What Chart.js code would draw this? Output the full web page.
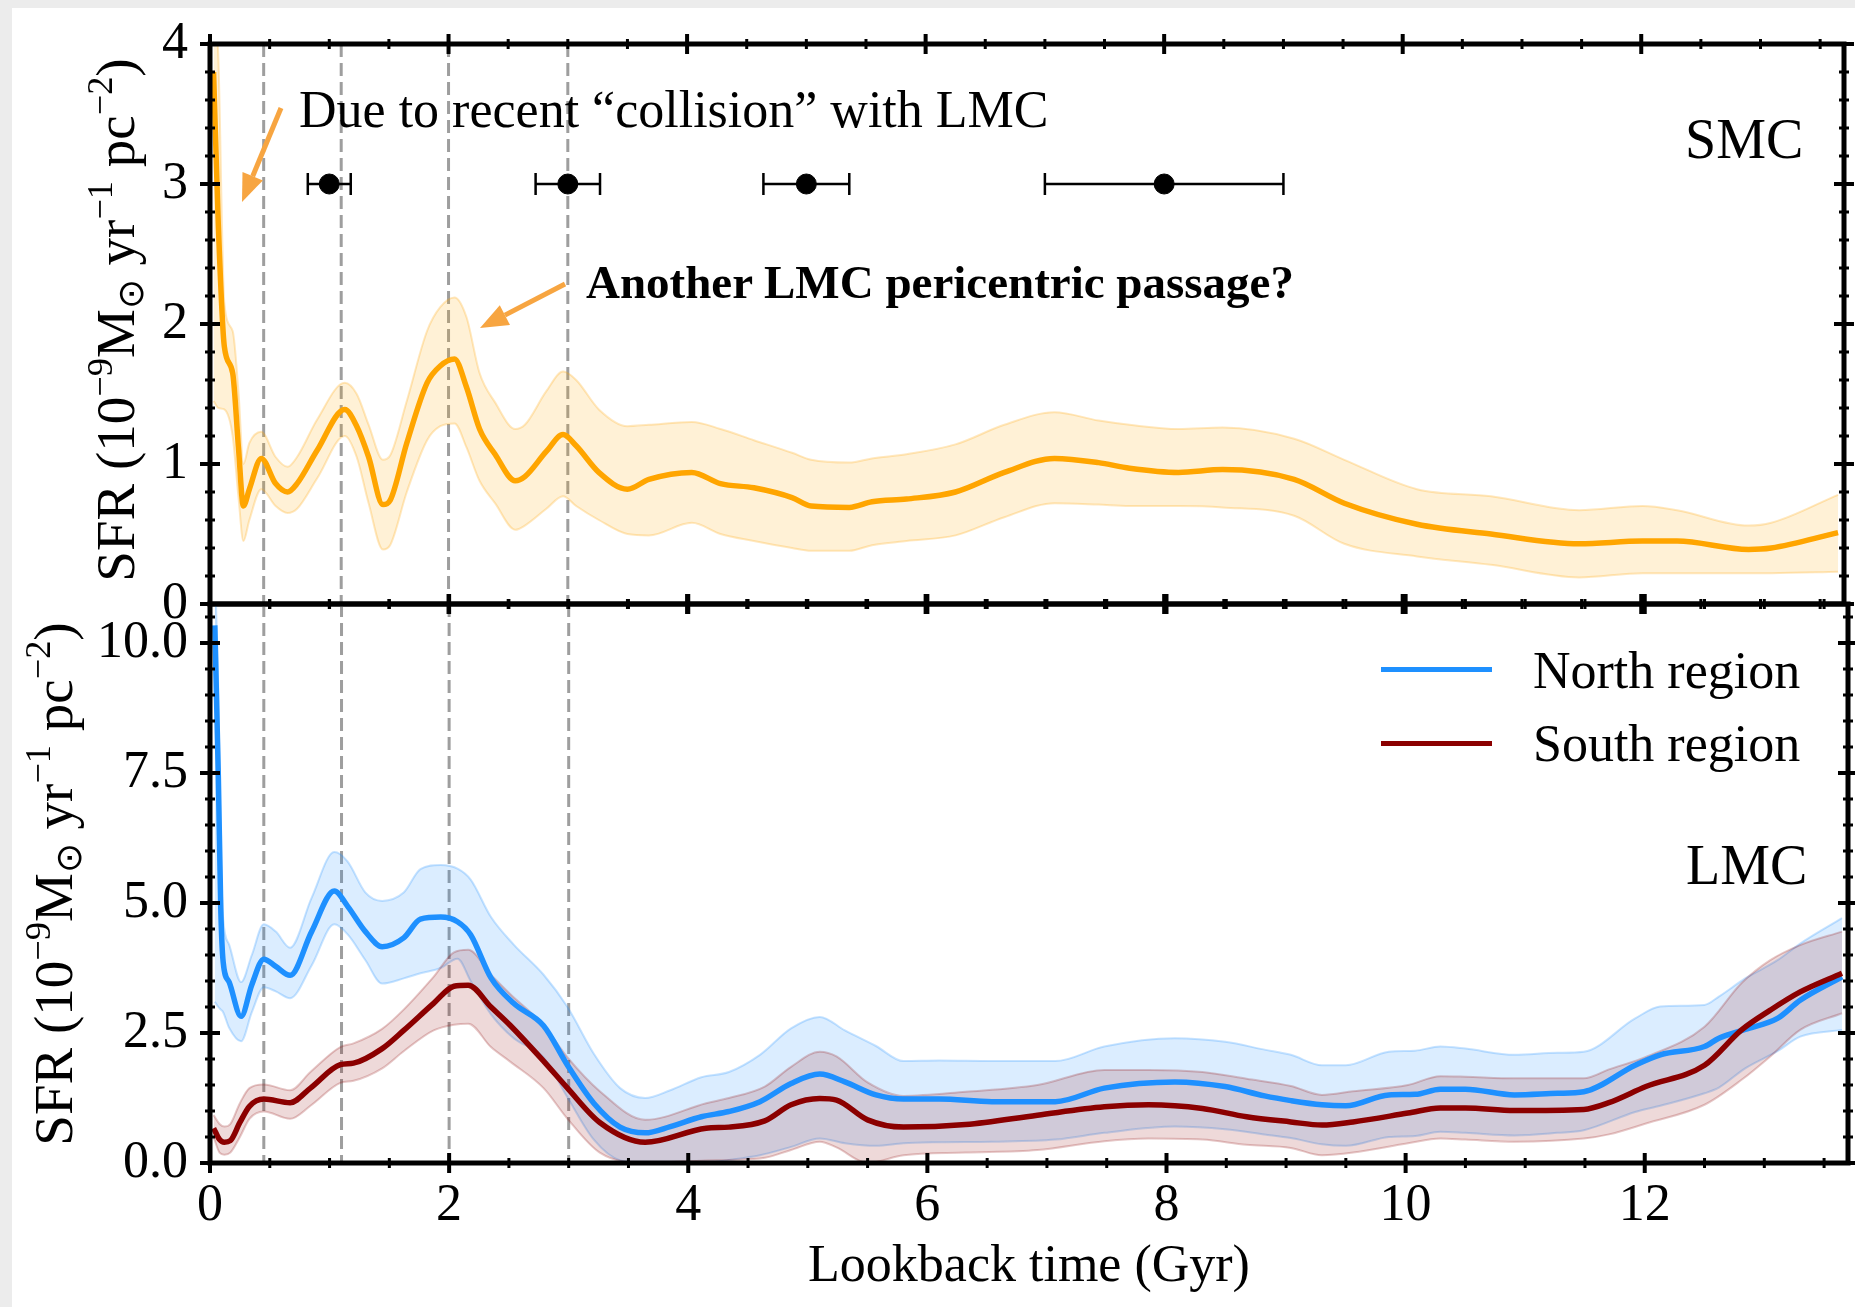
<!DOCTYPE html>
<html>
<head>
<meta charset="utf-8">
<script src="https://cdn.jsdelivr.net/npm/chart.js@4.4.1/dist/chart.umd.min.js"></script>
<style>
  html, body { margin: 0; padding: 0; background: #ececec; }
  #page { position: relative; width: 1855px; height: 1307px; overflow: hidden; }
  #card { position: absolute; left: 12px; top: 8px; right: 0; bottom: 0; background: #fff; }
  canvas { position: absolute; left: 0; top: 0; }
  .txt { position: absolute; font-family: "Liberation Serif", serif; color: #000; white-space: nowrap; line-height: 1; }
  .ytitle { position: absolute; font-family: "Liberation Serif", serif; font-size: 55px; line-height: 1;
            white-space: nowrap; transform: translate(-50%, -50%) rotate(-90deg); }
  .sup { font-size: 0.66em; position: relative; top: -0.6em; }
  .sub { font-size: 0.66em; position: relative; top: 0.25em; }
  .legline { position: absolute; height: 5px; }
  svg { position: absolute; left: 0; top: 0; }
</style>
</head>
<body>
<div id="page">
  <div id="card"></div>
  <canvas id="smcChart" width="1855" height="1307"></canvas>
  <canvas id="lmcChart" width="1855" height="1307"></canvas>

  <svg width="1855" height="1307">
    <line x1="281" y1="108" x2="252.7" y2="176.2" stroke="#f7a541" stroke-width="5"/>
    <polygon points="242,202 262.9,180.4 242.5,172" fill="#f7a541"/>
    <line x1="565" y1="284" x2="504.9" y2="315.1" stroke="#f7a541" stroke-width="5"/>
    <polygon points="480,328 510,324.9 499.8,305.3" fill="#f7a541"/>
  </svg>

  <div class="txt" style="left:299px; top:84px; font-size:52px;">Due to recent “collision” with LMC</div>
  <div class="txt" style="left:586px; top:259px; font-size:47px; font-weight:bold;">Another LMC pericentric passage?</div>
  <div class="txt" style="left:1685px; top:111px; font-size:56px;">SMC</div>
  <div class="txt" style="left:1686px; top:837px; font-size:56px;">LMC</div>

  <div class="legline" style="left:1381px; top:667px; width:111px; background:#1e90ff;"></div>
  <div class="legline" style="left:1381px; top:741px; width:111px; background:#8b0000;"></div>
  <div class="txt" style="left:1533px; top:645px; font-size:52px;">North region</div>
  <div class="txt" style="left:1533px; top:718px; font-size:52px;">South region</div>

  <div class="ytitle" style="left:115px; top:320px;">SFR (10<span class="sup">−9</span>M<span class="sub">⊙</span> yr<span class="sup">−1</span> pc<span class="sup">−2</span>)</div>
  <div class="ytitle" style="left:53px; top:884px;">SFR (10<span class="sup">−9</span>M<span class="sub">⊙</span> yr<span class="sup">−1</span> pc<span class="sup">−2</span>)</div>
</div>

<script>
// ---- data ----
const smcTime  = [0.03, 0.07, 0.12, 0.19, 0.24, 0.28, 0.33, 0.43, 0.55, 0.65, 0.73, 0.90, 1.13, 1.23, 1.33, 1.45, 1.51, 1.65, 1.82, 1.93, 2.05, 2.15, 2.26, 2.39, 2.56, 2.64, 2.82, 2.96, 3.07, 3.26, 3.50, 3.68, 4.04, 4.28, 4.56, 4.88, 5.04, 5.36, 5.55, 5.84, 6.25, 6.66, 7.08, 7.45, 7.71, 8.12, 8.49, 9.09, 9.51, 10.12, 10.74, 11.48, 12.01, 12.30, 12.90, 13.09, 13.65];
const smcSFR   = [3.80, 2.70, 1.84, 1.65, 1.10, 0.70, 0.82, 1.04, 0.86, 0.80, 0.86, 1.10, 1.39, 1.27, 1.05, 0.71, 0.74, 1.15, 1.58, 1.70, 1.75, 1.55, 1.25, 1.07, 0.88, 0.91, 1.09, 1.21, 1.13, 0.94, 0.82, 0.89, 0.94, 0.86, 0.83, 0.76, 0.70, 0.69, 0.73, 0.75, 0.80, 0.94, 1.04, 1.01, 0.97, 0.94, 0.96, 0.89, 0.72, 0.57, 0.50, 0.43, 0.45, 0.45, 0.39, 0.40, 0.51];
const smcUpper = [4.40, 3.90, 2.15, 1.95, 1.50, 1.00, 1.15, 1.23, 1.05, 0.98, 1.05, 1.32, 1.58, 1.50, 1.28, 1.03, 1.06, 1.45, 1.95, 2.12, 2.19, 2.05, 1.65, 1.44, 1.25, 1.28, 1.52, 1.66, 1.60, 1.39, 1.27, 1.28, 1.30, 1.25, 1.17, 1.08, 1.03, 1.01, 1.04, 1.07, 1.14, 1.28, 1.37, 1.31, 1.28, 1.25, 1.26, 1.18, 1.03, 0.82, 0.77, 0.67, 0.70, 0.67, 0.56, 0.58, 0.78];
const smcLower = [1.45, 1.40, 1.39, 1.20, 0.75, 0.45, 0.60, 0.82, 0.70, 0.65, 0.68, 0.90, 1.20, 1.05, 0.72, 0.39, 0.42, 0.80, 1.17, 1.27, 1.29, 1.12, 0.88, 0.72, 0.53, 0.56, 0.68, 0.77, 0.70, 0.60, 0.50, 0.49, 0.58, 0.50, 0.45, 0.40, 0.38, 0.38, 0.42, 0.45, 0.49, 0.62, 0.72, 0.71, 0.70, 0.70, 0.69, 0.63, 0.43, 0.34, 0.28, 0.19, 0.22, 0.22, 0.22, 0.22, 0.23];

const northTime  = [0.04, 0.07, 0.09, 0.11, 0.16, 0.26, 0.35, 0.45, 0.55, 0.67, 0.85, 1.04, 1.15, 1.30, 1.44, 1.62, 1.76, 1.93, 2.07, 2.18, 2.35, 2.54, 2.79, 2.99, 3.21, 3.43, 3.64, 3.85, 4.11, 4.34, 4.60, 4.86, 5.10, 5.31, 5.57, 5.80, 6.10, 6.54, 7.07, 7.48, 8.07, 8.49, 8.82, 9.04, 9.30, 9.50, 9.86, 10.08, 10.29, 10.50, 10.91, 11.27, 11.49, 11.92, 12.13, 12.50, 12.62, 12.84, 13.11, 13.30, 13.65];
const northSFR   = [10.34, 7.40, 4.90, 3.87, 3.48, 2.82, 3.43, 3.92, 3.78, 3.61, 4.45, 5.23, 4.94, 4.45, 4.16, 4.33, 4.69, 4.73, 4.64, 4.39, 3.56, 3.07, 2.64, 1.88, 1.15, 0.69, 0.58, 0.70, 0.89, 0.99, 1.18, 1.53, 1.71, 1.56, 1.31, 1.23, 1.23, 1.18, 1.18, 1.44, 1.56, 1.47, 1.29, 1.20, 1.12, 1.10, 1.31, 1.32, 1.42, 1.42, 1.31, 1.34, 1.37, 1.88, 2.08, 2.24, 2.40, 2.57, 2.78, 3.13, 3.58];
const northUpper = [11.50, 9.00, 6.00, 4.70, 4.20, 3.48, 4.00, 4.59, 4.45, 4.14, 5.10, 5.98, 5.80, 5.20, 5.04, 5.20, 5.65, 5.73, 5.66, 5.45, 4.73, 4.20, 3.62, 3.00, 2.10, 1.44, 1.25, 1.40, 1.65, 1.75, 2.08, 2.59, 2.81, 2.55, 2.25, 1.96, 1.97, 1.96, 1.96, 2.24, 2.40, 2.33, 2.18, 2.08, 1.88, 1.88, 2.14, 2.16, 2.24, 2.20, 2.08, 2.12, 2.14, 2.78, 3.01, 3.04, 3.20, 3.55, 3.90, 4.22, 4.71];
const northLower = [3.10, 3.00, 2.95, 2.90, 2.60, 2.34, 2.90, 3.38, 3.30, 3.17, 3.80, 4.59, 4.40, 3.90, 3.45, 3.55, 3.65, 3.75, 3.93, 3.50, 2.86, 2.40, 2.03, 1.26, 0.45, 0.05, 0.00, 0.00, 0.00, 0.06, 0.15, 0.31, 0.47, 0.38, 0.33, 0.38, 0.40, 0.41, 0.45, 0.58, 0.70, 0.65, 0.55, 0.48, 0.36, 0.33, 0.50, 0.52, 0.60, 0.58, 0.53, 0.58, 0.63, 0.98, 1.10, 1.34, 1.45, 1.82, 2.15, 2.43, 2.56];

const southTime  = [0.03, 0.08, 0.12, 0.17, 0.25, 0.33, 0.45, 0.67, 0.84, 1.09, 1.20, 1.44, 1.62, 1.87, 2.04, 2.16, 2.35, 2.51, 2.79, 2.99, 3.26, 3.64, 4.15, 4.34, 4.64, 4.86, 5.10, 5.24, 5.50, 5.80, 6.32, 6.92, 7.48, 7.85, 8.30, 8.67, 9.04, 9.30, 9.56, 10.02, 10.29, 10.50, 10.91, 11.49, 11.70, 12.01, 12.50, 12.81, 13.05, 13.30, 13.65];
const southSFR   = [0.67, 0.45, 0.40, 0.43, 0.78, 1.09, 1.23, 1.16, 1.44, 1.89, 1.92, 2.20, 2.55, 3.07, 3.40, 3.42, 3.00, 2.65, 1.96, 1.44, 0.78, 0.40, 0.67, 0.69, 0.81, 1.12, 1.24, 1.21, 0.83, 0.69, 0.74, 0.92, 1.08, 1.12, 1.05, 0.89, 0.79, 0.73, 0.79, 0.96, 1.06, 1.06, 1.01, 1.03, 1.16, 1.47, 1.88, 2.56, 2.94, 3.29, 3.65];
const southUpper = [0.92, 0.75, 0.70, 0.75, 1.15, 1.44, 1.51, 1.40, 1.75, 2.23, 2.30, 2.58, 2.95, 3.58, 4.05, 4.10, 3.62, 3.25, 2.65, 2.03, 1.38, 0.83, 1.15, 1.25, 1.47, 1.85, 2.14, 2.05, 1.55, 1.29, 1.37, 1.50, 1.79, 1.79, 1.75, 1.62, 1.48, 1.31, 1.38, 1.50, 1.67, 1.66, 1.63, 1.63, 1.80, 2.04, 2.62, 3.46, 3.90, 4.19, 4.45];
const southLower = [0.50, 0.20, 0.16, 0.20, 0.50, 0.85, 0.99, 0.85, 1.10, 1.54, 1.58, 1.82, 2.15, 2.55, 2.66, 2.68, 2.23, 1.95, 1.44, 0.85, 0.20, 0.00, 0.05, 0.06, 0.10, 0.25, 0.41, 0.30, 0.00, 0.15, 0.20, 0.25, 0.42, 0.47, 0.45, 0.35, 0.29, 0.15, 0.20, 0.38, 0.47, 0.45, 0.41, 0.47, 0.55, 0.76, 1.12, 1.60, 2.05, 2.56, 2.88];

// pericentre estimates with x errors, drawn at SFR = 3 in the SMC panel
const passageTime  = [1, 3, 5, 8];
const passageErr   = [0.18, 0.27, 0.36, 1.0];
const passageLevel = [3, 3, 3, 3];

// dashed markers
const markerTimes = [0.45, 1.1, 2.0, 3.0];

// ticks
const xTicks   = [0, 2, 4, 6, 8, 10, 12];
const smcTicks = [0, 1, 2, 3, 4];
const lmcTicks = [0, 2.5, 5, 7.5, 10];

const X_MAX = 13.7;

Chart.defaults.font.family = '"Liberation Serif", serif';
Chart.defaults.color = '#000';

const pts = (t, v) => t.map((x, i) => ({ x: x, y: v[i] }));

function lineSet(label, t, v, color, width, fill, bg) {
  return {
    label: label,
    data: pts(t, v),
    borderColor: color,
    borderWidth: width,
    backgroundColor: bg || 'transparent',
    fill: fill,
    pointRadius: 0,
    cubicInterpolationMode: 'monotone'
  };
}

// fixed axis box: left gutter 210px, no extra label padding at the ends
const fixYAxis = s => { s.width = 210; s.paddingTop = 0; s.paddingBottom = 0; };

// dashed vertical lines, under the data
const markerLines = {
  id: 'markerLines',
  beforeDatasetsDraw(chart) {
    const { ctx, chartArea: a, scales: { x } } = chart;
    ctx.save();
    ctx.strokeStyle = 'rgba(125,125,125,0.75)';
    ctx.lineWidth = 3;
    ctx.setLineDash([13, 6]);
    markerTimes.forEach(t => {
      const px = x.getPixelForValue(t);
      ctx.beginPath();
      ctx.moveTo(px, a.top);
      ctx.lineTo(px, a.bottom);
      ctx.stroke();
    });
    ctx.restore();
  }
};

// horizontal error bars for the passage points
const errorBars = {
  id: 'errorBars',
  beforeDatasetsDraw(chart) {
    const { ctx, scales: { x, y } } = chart;
    ctx.save();
    ctx.strokeStyle = '#000';
    ctx.lineWidth = 2.5;
    passageTime.forEach((t, i) => {
      const x0 = x.getPixelForValue(t - passageErr[i]);
      const x1 = x.getPixelForValue(t + passageErr[i]);
      const py = y.getPixelForValue(passageLevel[i]);
      ctx.beginPath();
      ctx.moveTo(x0, py); ctx.lineTo(x1, py);
      ctx.moveTo(x0, py - 11); ctx.lineTo(x0, py + 11);
      ctx.moveTo(x1, py - 11); ctx.lineTo(x1, py + 11);
      ctx.stroke();
    });
    ctx.restore();
  }
};

// thick frame with in-out ticks on all four sides
const frameTicks = {
  id: 'frameTicks',
  afterDraw(chart, args, opts) {
    const { ctx, chartArea: a, scales: { x, y } } = chart;
    ctx.save();
    ctx.strokeStyle = '#000';
    const seg = (x0, y0, x1, y1) => { ctx.beginPath(); ctx.moveTo(x0, y0); ctx.lineTo(x1, y1); ctx.stroke(); };
    const isMajor = (v, step) => Math.abs(v / step - Math.round(v / step)) < 1e-6;
    for (let v = 0; v <= X_MAX + 1e-9; v += 0.5) {
      const px = x.getPixelForValue(v);
      const big = isMajor(v, 2);
      const len = big ? 10 : 5;
      ctx.lineWidth = big ? 4 : 3;
      seg(px, a.top - len, px, a.top + len);
      seg(px, a.bottom - len, px, a.bottom + len);
    }
    for (let v = 0; v <= y.max + 1e-9; v += opts.yMinor) {
      const py = y.getPixelForValue(v);
      const big = isMajor(v, opts.yMajor);
      const len = big ? 10 : 5;
      ctx.lineWidth = big ? 4 : 3;
      seg(a.left - len, py, a.left + len, py);
      seg(a.right - len, py, a.right + len, py);
    }
    ctx.lineWidth = 5;
    ctx.strokeRect(a.left, a.top, a.right - a.left, a.bottom - a.top);
    ctx.restore();
  }
};

const baseOptions = {
  responsive: false,
  animation: false,
  events: [],
  plugins: { legend: { display: false }, tooltip: { enabled: false } }
};

// ---- SMC panel ----
new Chart(document.getElementById('smcChart'), {
  type: 'line',
  data: {
    datasets: [
      { label: 'passages', data: pts(passageTime, passageLevel), showLine: false,
        pointRadius: 10, pointBackgroundColor: '#000', pointBorderColor: '#000', borderColor: '#000' },
      lineSet('SMC', smcTime, smcSFR, '#ffa500', 5.5, false),
      lineSet('SMC upper', smcTime, smcUpper, 'rgba(255,165,0,0.25)', 2, '+1', 'rgba(255,165,0,0.16)'),
      lineSet('SMC lower', smcTime, smcLower, 'rgba(255,165,0,0.25)', 2, false)
    ]
  },
  options: Object.assign({}, baseOptions, {
    layout: { padding: { left: 0, top: 44, right: 7, bottom: 703 } },
    scales: {
      x: { type: 'linear', min: 0, max: X_MAX, display: false },
      y: {
        type: 'linear', min: 0, max: 4,
        afterBuildTicks: s => { s.ticks = smcTicks.map(v => ({ value: v })); },
        afterFit: fixYAxis,
        ticks: { font: { size: 52 }, color: '#000', padding: 22, callback: v => String(v) },
        grid: { display: false, drawTicks: false },
        border: { display: false }
      }
    },
    plugins: Object.assign({}, baseOptions.plugins, { frameTicks: { yMinor: 0.2, yMajor: 1 } })
  }),
  plugins: [markerLines, errorBars, frameTicks]
});

// ---- LMC panel ----
new Chart(document.getElementById('lmcChart'), {
  type: 'line',
  data: {
    datasets: [
      lineSet('South region', southTime, southSFR, '#8b0000', 5.5, false),
      lineSet('North region', northTime, northSFR, '#1e90ff', 5.5, false),
      lineSet('South upper', southTime, southUpper, 'rgba(139,0,0,0.22)', 2, '+1', 'rgba(139,0,0,0.15)'),
      lineSet('South lower', southTime, southLower, 'rgba(139,0,0,0.22)', 2, false),
      lineSet('North upper', northTime, northUpper, 'rgba(30,144,255,0.25)', 2, '+1', 'rgba(30,144,255,0.16)'),
      lineSet('North lower', northTime, northLower, 'rgba(30,144,255,0.25)', 2, false)
    ]
  },
  options: Object.assign({}, baseOptions, {
    layout: { padding: { left: 0, top: 604, right: 7, bottom: 0 } },
    scales: {
      x: {
        type: 'linear', min: 0, max: X_MAX,
        afterBuildTicks: s => { s.ticks = xTicks.map(v => ({ value: v })); },
        afterFit: s => { s.height = 144; },
        ticks: { font: { size: 52 }, color: '#000', padding: 12, maxRotation: 0, autoSkip: false, callback: v => String(v) },
        grid: { display: false, drawTicks: false },
        border: { display: false },
        title: { display: true, text: 'Lookback time (Gyr)', font: { size: 52 }, color: '#000', padding: { top: 0, bottom: 8 } }
      },
      y: {
        type: 'linear', min: 0, max: 10.75,
        afterBuildTicks: s => { s.ticks = lmcTicks.map(v => ({ value: v })); },
        afterFit: fixYAxis,
        ticks: { font: { size: 52 }, color: '#000', padding: 22, callback: v => v.toFixed(1) },
        grid: { display: false, drawTicks: false },
        border: { display: false }
      }
    },
    plugins: Object.assign({}, baseOptions.plugins, { frameTicks: { yMinor: 0.5, yMajor: 2.5 } })
  }),
  plugins: [markerLines, frameTicks]
});
</script>
</body>
</html>
